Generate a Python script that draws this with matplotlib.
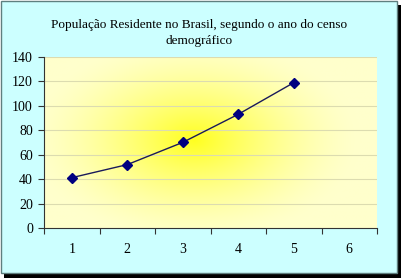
import numpy as np
import matplotlib
matplotlib.use("Agg")
import matplotlib.pyplot as plt
from matplotlib.patches import Rectangle
from matplotlib.colors import to_rgb

title = "População Residente no Brasil, segundo o ano do censo\ndemográfico"
categories = [1, 2, 3, 4, 5, 6]
x_values = [1, 2, 3, 4, 5]
population = [41.2, 51.9, 70.1, 93.1, 119.0]
y_ticks = [0, 20, 40, 60, 80, 100, 120, 140]

plt.rcParams['font.family'] = ['Liberation Serif', 'DejaVu Serif']

W, H = 401, 278
fig = plt.figure(figsize=(W/100, H/100), dpi=100)
fig.patch.set_facecolor('white')

# shadow
fig.patches.append(Rectangle((4/W, 0), (W-4)/W, (H-5)/H, transform=fig.transFigure,
                             facecolor='black', edgecolor='none', zorder=-3))
# frame
fig.patches.append(Rectangle((0.5/W, 5.5/H), (396)/W, (272)/H, transform=fig.transFigure,
                             facecolor='#CCFFFF', edgecolor='#5F7F7F', linewidth=1, zorder=-2))

ax = fig.add_axes([44/W, (H-228)/H, (377-44)/W, (228-57)/H])
ax.set_zorder(2)
ax.set_facecolor('none')

# radial gradient background
nx, ny = 300, 200
gx = np.linspace(0.5, 6.5, nx)
gy = np.linspace(0, 140, ny)
GX, GY = np.meshgrid(gx, gy)
cx, cy = 3.2, 72
d = np.sqrt(((GX - cx) / 3.0) ** 2 + ((GY - cy) / 85) ** 2)
t = np.clip(1 - d, 0, 1) ** 1.5
base = np.array(to_rgb('#FFFFCC'))
center = np.array(to_rgb('#FFFF20'))
img = base[None, None, :] * (1 - t[..., None]) + center[None, None, :] * t[..., None]
ax.imshow(img, extent=[0.5, 6.5, 0, 140], origin='lower', aspect='auto', zorder=0)

ax.set_xlim(0.5, 6.5)
ax.set_ylim(0, 140)
ax.set_yticks(y_ticks)
for yv in y_ticks[1:]:
    ax.axhline(yv, color='#DCDCB0', linewidth=0.8, zorder=1)

ax.plot(x_values, population, color='#1A1A5A', linewidth=1.0, marker='D',
        markersize=5, markerfacecolor='#000080', markeredgecolor='#000080', zorder=3)

ax.set_xticks(categories)
ax.set_xticklabels([str(c) for c in categories])
ax.set_xticks(np.arange(0.5, 7.0, 1.0), minor=True)
ax.tick_params(axis='x', which='major', length=0, pad=11, labelsize=10)
ax.tick_params(axis='x', which='minor', length=4, width=0.8, color='#333333')
ax.tick_params(axis='y', length=4, width=0.8, color='#333333', labelsize=10, pad=4)

for s in ['top', 'right']:
    ax.spines[s].set_visible(False)
ax.spines['left'].set_color('#333333')
ax.spines['bottom'].set_color('#333333')
ax.spines['left'].set_linewidth(0.8)
ax.spines['bottom'].set_linewidth(0.8)

fig.text(199/W, 1 - 33/H, title, ha='center', va='center', fontsize=9.5,
         linespacing=1.45, color='black')

fig.savefig('out.png', dpi=100)
